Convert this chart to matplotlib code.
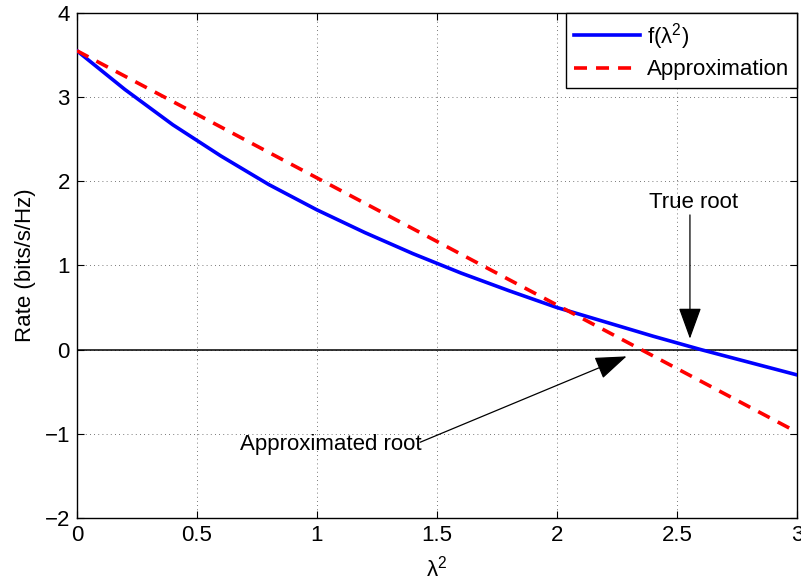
import matplotlib
matplotlib.use("Agg")
import matplotlib.pyplot as plt
import numpy as np

plt.rcParams['font.family'] = ['Liberation Sans', 'DejaVu Sans']
plt.rcParams['mathtext.default'] = 'regular'

# Sampled rate curve f(lambda^2)
lam2 = [0.0, 0.2, 0.4, 0.6, 0.8, 1.0, 1.2, 1.4, 1.6, 1.8, 2.0, 2.2, 2.4, 2.6, 2.8, 3.0]
rate = [3.55, 3.09, 2.67, 2.30, 1.96, 1.66, 1.39, 1.14, 0.91, 0.70, 0.50, 0.33, 0.16, 0.00, -0.15, -0.30]

# Linear approximation endpoints
approx_x = [0.0, 3.0]
approx_y = [3.55, -0.98]

xticks = [0, 0.5, 1, 1.5, 2, 2.5, 3]
xticklabels = ['0', '0.5', '1', '1.5', '2', '2.5', '3']
yticks = [-2, -1, 0, 1, 2, 3, 4]
yticklabels = ['\u22122', '\u22121', '0', '1', '2', '3', '4']

FS = 16

fig = plt.figure(figsize=(8.01, 5.85), dpi=100)
ax = fig.add_axes([0.096, 0.1145, 0.899, 0.8635])

ax.plot(lam2, rate, color='#0000ff', lw=2.6, label='f(λ$^{2}$)', zorder=3)
ax.plot(approx_x, approx_y, color='#ff0000', lw=2.6, dashes=(3.6, 2.5),
        label='Approximation', zorder=3)
ax.axhline(0, color='black', lw=1.1, zorder=2)

ax.set_xlim(0, 3)
ax.set_ylim(-2, 4)
ax.set_xticks(xticks)
ax.set_xticklabels(xticklabels)
ax.set_yticks(yticks)
ax.set_yticklabels(yticklabels)
ax.tick_params(direction='in', top=True, right=True, labelsize=FS, length=5,
               width=0.8, pad=5)
ax.grid(True, color='black', linestyle=(0, (1, 4)), lw=0.6, alpha=0.7)
for s in ax.spines.values():
    s.set_linewidth(1.0)

ax.set_xlabel('λ$^{2}$', fontsize=FS, labelpad=7)
ax.set_ylabel('Rate (bits/s/Hz)', fontsize=FS, labelpad=6)

arrow = dict(arrowstyle='-|>,head_length=1.1,head_width=0.4', color='black',
             lw=0.9, shrinkA=0, shrinkB=0, mutation_scale=18)
ax.annotate('', xy=(2.554, 0.13), xytext=(2.554, 1.60), arrowprops=arrow)
ax.text(2.57, 1.75, 'True root', fontsize=FS, ha='center', va='center')
ax.annotate('', xy=(2.29, -0.08), xytext=(1.43, -1.10), arrowprops=arrow)
ax.text(1.058, -1.13, 'Approximated root', fontsize=FS, ha='center', va='center')

leg = ax.legend(loc='upper right', fontsize=FS, frameon=True, fancybox=False,
                edgecolor='black', framealpha=1, borderaxespad=0,
                handlelength=3.0, handletextpad=0.3, borderpad=0.35,
                labelspacing=0.35)
leg.get_frame().set_linewidth(1.0)

fig.savefig('out.png', dpi=100)
